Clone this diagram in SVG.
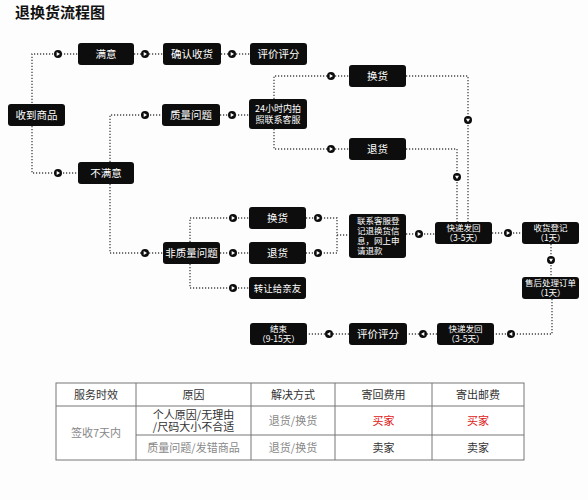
<svg xmlns="http://www.w3.org/2000/svg" xmlns:xlink="http://www.w3.org/1999/xlink" width="588" height="500" viewBox="0 0 588 500">
<style>
.n rect{fill:#0d0d0d}
.n text{fill:#fff;font-family:"Noto Sans CJK SC","Noto Sans",sans-serif;font-size:10.5px;text-anchor:middle}
.n text.s{font-size:8.5px}
.n text.l{text-anchor:start}
.c path{fill:none;stroke:#444;stroke-width:1.3;stroke-dasharray:1.2 1.8}
.t{font-family:"Noto Sans CJK SC","Noto Sans",sans-serif;font-size:11px;text-anchor:middle;fill:#333}
.g{fill:#888}
.r{fill:#e02020}
.tl line{stroke:#777;stroke-width:1}
</style>
<defs>
<g id="m"><circle r="4" fill="#0d0d0d"/><path d="M-1.3,-2 L2,0 L-1.3,2 Z" fill="#fff"/></g>
</defs>
<rect width="588" height="500" fill="#fdfdfd"/>
<text x="15" y="18" font-family="'Noto Sans CJK SC','Noto Sans',sans-serif" font-size="15" font-weight="bold" fill="#111">退换货流程图</text>

<g class="c">
<path d="M32,103 V54 H78"/>
<path d="M32,126 V173 H78"/>
<path d="M134,54 H163"/>
<path d="M221,54 H250"/>
<path d="M110,162 V115 H163"/>
<path d="M110,184 V253 H163"/>
<path d="M220,115 H250"/>
<path d="M274,99 V76 H349"/>
<path d="M274,129 V149 H349"/>
<path d="M406,76 H468 V222"/>
<path d="M406,149 H457 V222"/>
<path d="M190,242 V218 H249"/>
<path d="M220,253 H249"/>
<path d="M190,264 V288 H249"/>
<path d="M306,218 H337 V253 H306"/>
<path d="M337,235 H349"/>
<path d="M406,234 H435"/>
<path d="M492,233 H522"/>
<path d="M551,244 V277"/>
<path d="M552,299 V334 H494"/>
<path d="M437,334 H407"/>
<path d="M349,334 H307"/>
<use xlink:href="#m" x="58" y="54"/>
<use xlink:href="#m" x="58" y="173"/>
<use xlink:href="#m" x="145" y="54"/>
<use xlink:href="#m" x="232" y="54"/>
<use xlink:href="#m" x="145" y="115"/>
<use xlink:href="#m" x="145" y="253"/>
<use xlink:href="#m" x="232" y="115"/>
<use xlink:href="#m" x="331" y="76"/>
<use xlink:href="#m" x="331" y="149"/>
<use xlink:href="#m" transform="translate(468,120) rotate(90)"/>
<use xlink:href="#m" transform="translate(457,177) rotate(90)"/>
<use xlink:href="#m" x="233" y="218"/>
<use xlink:href="#m" x="233" y="253"/>
<use xlink:href="#m" x="233" y="288"/>
<use xlink:href="#m" x="318" y="218"/>
<use xlink:href="#m" x="318" y="253"/>
<use xlink:href="#m" x="419" y="234"/>
<use xlink:href="#m" x="508" y="233"/>
<use xlink:href="#m" transform="translate(551,260) rotate(90)"/>
<use xlink:href="#m" transform="translate(511,334) rotate(180)"/>
<use xlink:href="#m" transform="translate(423,334) rotate(180)"/>
<use xlink:href="#m" transform="translate(329,334) rotate(180)"/>
</g>

<g id="n-manyi" class="n"><rect x="78" y="43" width="56" height="22" rx="3"/><text x="106" y="58">满意</text></g>
<g id="n-queren" class="n"><rect x="163" y="43" width="58" height="22" rx="3"/><text x="192" y="58">确认收货</text></g>
<g id="n-pingjia1" class="n"><rect x="250" y="43" width="57" height="22" rx="3"/><text x="278.5" y="58">评价评分</text></g>
<g id="n-shoudao" class="n"><rect x="8" y="104" width="57" height="22" rx="3"/><text x="36.5" y="119">收到商品</text></g>
<g id="n-zhiliang" class="n"><rect x="162" y="104" width="58" height="22" rx="3"/><text x="191" y="119">质量问题</text></g>
<g id="n-24h" class="n"><rect x="249" y="99" width="58" height="30" rx="3"/><text class="s" style="font-size:9px"><tspan x="278" y="112">24小时内拍</tspan><tspan x="278" y="123">照联系客服</tspan></text></g>
<g id="n-huanhuo1" class="n"><rect x="349" y="65" width="57" height="22" rx="3"/><text x="377.5" y="80">换货</text></g>
<g id="n-tuihuo1" class="n"><rect x="349" y="138" width="57" height="22" rx="3"/><text x="377.5" y="153">退货</text></g>
<g id="n-bumanyi" class="n"><rect x="78" y="162" width="56" height="22" rx="3"/><text x="106" y="177">不满意</text></g>
<g id="n-feizhiliang" class="n"><rect x="163" y="242" width="57" height="22" rx="3"/><text x="191.5" y="257">非质量问题</text></g>
<g id="n-huanhuo2" class="n"><rect x="249" y="207" width="57" height="22" rx="3"/><text x="277.5" y="222">换货</text></g>
<g id="n-tuihuo2" class="n"><rect x="249" y="242" width="57" height="22" rx="3"/><text x="277.5" y="257">退货</text></g>
<g id="n-zhuanrang" class="n"><rect x="249" y="277" width="57" height="22" rx="3"/><text x="277.5" y="291.5" style="font-size:9.5px">转让给亲友</text></g>
<g id="n-lianxi" class="n"><rect x="349" y="214" width="57" height="44" rx="3"/><text class="s l"><tspan x="357" y="224">联系客服登</tspan><tspan x="357" y="234">记退换货信</tspan><tspan x="357" y="244">息，网上申</tspan><tspan x="357" y="254">请退款</tspan></text></g>
<g id="n-kuaidi1" class="n"><rect x="435" y="222" width="57" height="22" rx="3"/><text class="s"><tspan x="463.5" y="231">快递发回</tspan><tspan x="463.5" y="241">（3-5天）</tspan></text></g>
<g id="n-shouhuo" class="n"><rect x="522" y="222" width="57" height="22" rx="3"/><text class="s"><tspan x="550.5" y="231">收货登记</tspan><tspan x="550.5" y="241">（1天）</tspan></text></g>
<g id="n-shouhou" class="n"><rect x="522" y="277" width="57" height="22" rx="3"/><text class="s"><tspan x="550.5" y="286">售后处理订单</tspan><tspan x="550.5" y="296">（1天）</tspan></text></g>
<g id="n-kuaidi2" class="n"><rect x="437" y="323" width="57" height="22" rx="3"/><text class="s"><tspan x="465.5" y="332">快递发回</tspan><tspan x="465.5" y="342">（3-5天）</tspan></text></g>
<g id="n-pingjia2" class="n"><rect x="349" y="323" width="58" height="22" rx="3"/><text x="378" y="338">评价评分</text></g>
<g id="n-jieshu" class="n"><rect x="250" y="323" width="57" height="22" rx="3"/><text class="s"><tspan x="278.5" y="332">结束</tspan><tspan x="278.5" y="342">（9-15天）</tspan></text></g>

<g id="table">
<rect x="56" y="383" width="468" height="77" fill="#fff" stroke="#777" stroke-width="1"/>
<g class="tl">
<line x1="136" y1="383" x2="136" y2="460"/>
<line x1="251" y1="383" x2="251" y2="460"/>
<line x1="335" y1="383" x2="335" y2="460"/>
<line x1="432" y1="383" x2="432" y2="460"/>
<line x1="56" y1="406" x2="524" y2="406"/>
<line x1="136" y1="435" x2="524" y2="435"/>
</g>
<text class="t" x="96" y="398.5">服务时效</text>
<text class="t" x="193.5" y="398.5">原因</text>
<text class="t" x="293" y="398.5">解决方式</text>
<text class="t" x="383.5" y="398.5">寄回费用</text>
<text class="t" x="478" y="398.5">寄出邮费</text>
<text class="t g" x="96" y="437">签收7天内</text>
<text class="t"><tspan x="193.5" y="418.5">个人原因/无理由</tspan><tspan x="193.5" y="431">/尺码大小不合适</tspan></text>
<text class="t g" x="293" y="424.5">退货/换货</text>
<text class="t r" x="383.5" y="424.5">买家</text>
<text class="t r" x="478" y="424.5">买家</text>
<text class="t g" x="193.5" y="451.5">质量问题/发错商品</text>
<text class="t g" x="293" y="451.5">退货/换货</text>
<text class="t" x="383.5" y="451.5">卖家</text>
<text class="t" x="478" y="451.5">卖家</text>
</g>
</svg>
